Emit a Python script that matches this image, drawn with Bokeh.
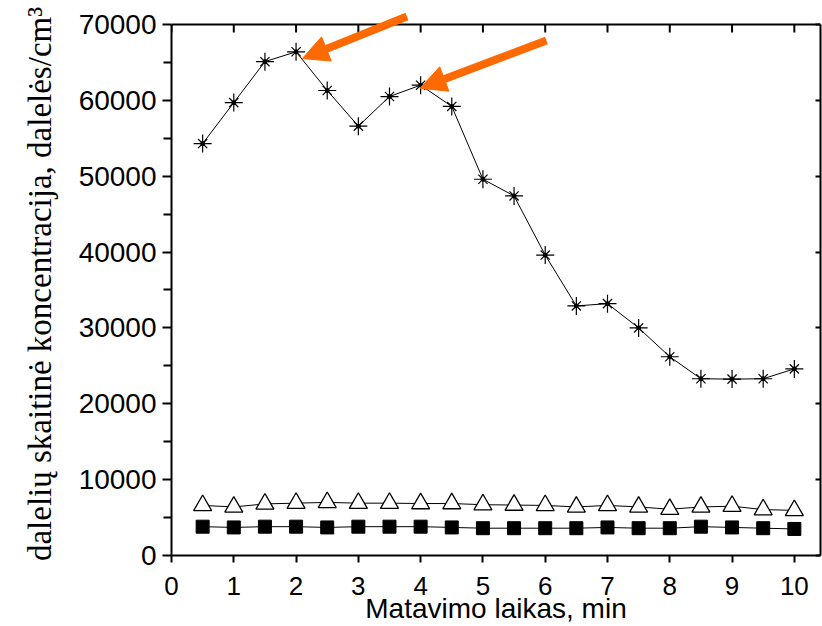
from bokeh.plotting import figure
from bokeh.models import Range1d, LinearAxis, FixedTicker, Arrow, NormalHead, Span
from bokeh.embed import file_html
from bokeh.resources import INLINE

# data
t_min = [0.5, 1, 1.5, 2, 2.5, 3, 3.5, 4, 4.5, 5, 5.5, 6, 6.5, 7, 7.5, 8, 8.5, 9, 9.5, 10]
stars = [54300, 59700, 65100, 66400, 61300, 56600, 60500, 62000, 59200, 49600,
         47400, 39600, 32900, 33200, 30000, 26200, 23300, 23250, 23300, 24600]
triangles = [6600, 6400, 6800, 6900, 7000, 6900, 6900, 6850, 6850, 6700,
             6650, 6600, 6400, 6600, 6400, 6100, 6400, 6500, 6050, 5950]
squares = [3800, 3700, 3800, 3800, 3700, 3800, 3800, 3800, 3700, 3600,
           3600, 3600, 3600, 3700, 3600, 3600, 3800, 3700, 3600, 3500]
x_ticks = [0, 1, 2, 3, 4, 5, 6, 7, 8, 9, 10]
y_ticks = [0, 10000, 20000, 30000, 40000, 50000, 60000, 70000]
y_minor = [5000, 15000, 25000, 35000, 45000, 55000, 65000]
y_axis_max = 70000
x_title = "Matavimo laikas, min"
y_title = "dalelių skaitinė koncentracija, dalelės/cm³"
# annotation arrows (tail x, tail y, tip x, tip y)
arrow_tail_x = [3.78, 6.02]
arrow_tail_y = [71050, 67900]
arrow_tip_x = [2.10, 3.99]
arrow_tip_y = [65500, 61600]

px_per_unit = 532 / y_axis_max   # screen px per data unit on y
top_pad_px = 12
p = figure(width=822, height=626, output_backend="svg", toolbar_location=None,
           x_range=Range1d(0, 10.42),
           y_range=Range1d(0, y_axis_max + top_pad_px / px_per_unit),
           x_axis_location=None, y_axis_location=None)
p.min_border_left = 171
p.min_border_top = top_pad_px
p.min_border_bottom = 70
p.min_border_right = 2
p.xgrid.visible = False
p.ygrid.visible = False
p.outline_line_color = None
p.background_fill_color = "white"
p.border_fill_color = "white"

def style(ax):
    ax.axis_line_width = 2
    ax.axis_line_color = "black"
    ax.major_tick_line_width = 2
    ax.minor_tick_line_width = 2
    ax.major_label_text_font = "Liberation Sans"
    ax.major_label_text_font_size = "28px"
    ax.major_label_text_color = "black"

bottom = LinearAxis(ticker=FixedTicker(ticks=x_ticks))
style(bottom)
bottom.major_label_text_font_size = "26px"
bottom.major_tick_out = 7
bottom.major_tick_in = 0
bottom.minor_tick_out = 0
bottom.major_label_standoff = 14
bottom.axis_label = x_title
bottom.axis_label_text_font = "Liberation Sans"
bottom.axis_label_text_font_size = "28px"
bottom.axis_label_text_font_style = "normal"
bottom.axis_label_text_color = "black"
bottom.axis_label_standoff = -5
p.add_layout(bottom, "below")

left = LinearAxis(ticker=FixedTicker(ticks=y_ticks, minor_ticks=y_minor),
                  bounds=(0, y_axis_max))
style(left)
left.major_tick_out = 9
left.major_tick_in = 0
left.minor_tick_out = 8
left.minor_tick_in = 0
left.major_label_standoff = 6
left.axis_label = y_title
left.axis_label_text_font = "Liberation Serif"
left.axis_label_text_font_size = "33px"
left.axis_label_text_font_style = "normal"
left.axis_label_text_color = "black"
left.axis_label_standoff = 18
p.add_layout(left, "left")

right = LinearAxis(ticker=FixedTicker(ticks=y_ticks), bounds=(0, y_axis_max))
style(right)
right.major_tick_in = 5
right.major_tick_out = 0
right.minor_tick_out = 0
right.major_label_text_font_size = "0px"
right.major_label_text_alpha = 0
p.add_layout(right, "right")

# top frame line and inward ticks at y = y_axis_max
p.add_layout(Span(location=y_axis_max, dimension="width", line_color="black", line_width=2))
p.segment(x0=x_ticks, y0=[y_axis_max] * len(x_ticks), x1=x_ticks,
          y1=[y_axis_max - 8 / px_per_unit] * len(x_ticks), line_color="black", line_width=2)

# series
p.line(t_min, stars, line_color="black", line_width=1)
p.line(t_min, triangles, line_color="black", line_width=1)
p.line(t_min, squares, line_color="black", line_width=1)

p.scatter(t_min, stars, marker="cross", size=18, line_color="black", line_width=1.2)
p.scatter(t_min, stars, marker="x", size=13, line_color="black", line_width=1.2)
p.scatter(t_min, stars, marker="circle", size=4, fill_color="black", line_color="black")
p.scatter(t_min, triangles, marker="triangle", size=18, fill_color="white",
          line_color="black", line_width=1.3)
p.scatter(t_min, squares, marker="square", size=13, fill_color="black",
          line_color="black")

orange = "#FF6A00"
for i in range(len(arrow_tail_x)):
    p.add_layout(Arrow(x_start=arrow_tail_x[i], y_start=arrow_tail_y[i],
                       x_end=arrow_tip_x[i], y_end=arrow_tip_y[i],
                       line_color=orange, line_width=8,
                       end=NormalHead(size=26, fill_color=orange, line_color=orange,
                                      line_width=1)))

open("out.html", "w").write(file_html(p, INLINE))
